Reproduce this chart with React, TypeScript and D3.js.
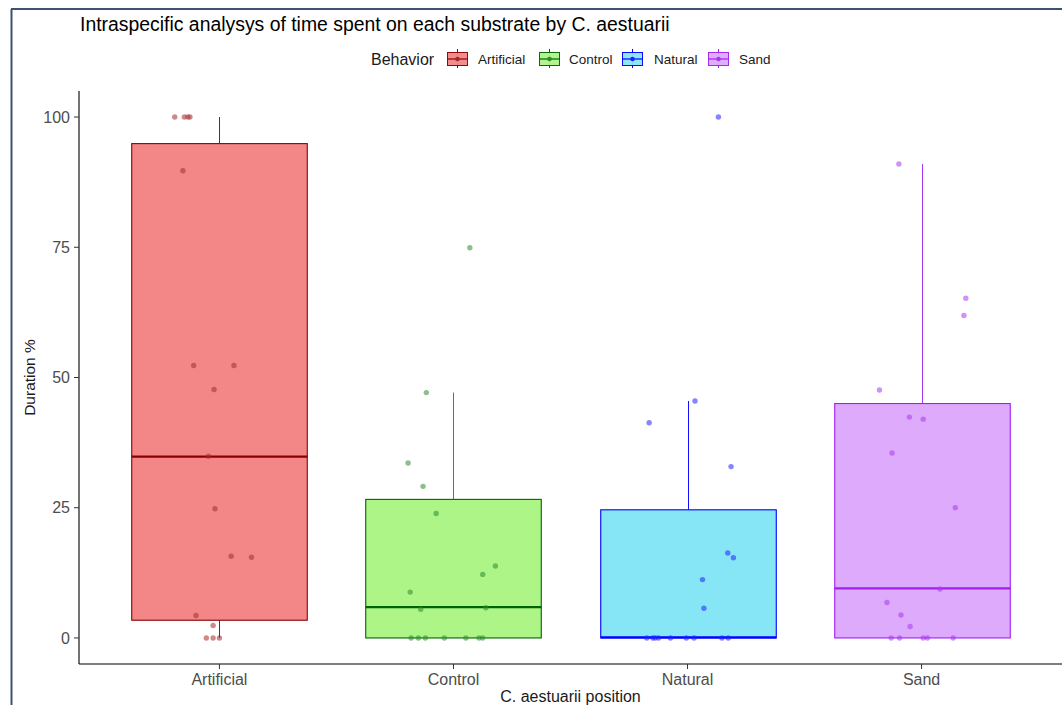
import React from "react";
import * as d3 from "d3";

const categories = ["Artificial", "Control", "Natural", "Sand"];
const fillColors = ["#F38787", "#ADF587", "#87E6F5", "#DDAAFC"];
const strokeColors = ["#8B0000", "#006400", "#0000FF", "#A020F0"];
const whiskerColors = ["#8B1A1A", "#3C8C3C", "#1010FF", "#A838F0"];
const pointColors = ["#A52A2A", "#2E8B2E", "#2020FF", "#A838F0"];

// box statistics [lowerWhisker, q1, median, q3, upperWhisker]
const boxArtificial = [0, 3.4, 34.8, 94.9, 100];
const boxControl = [0, 0, 5.9, 26.6, 47.1];
const boxNatural = [0, 0, 0.1, 24.6, 45.5];
const boxSand = [0, 0, 9.5, 45.0, 91.0];
const boxes = [boxArtificial, boxControl, boxNatural, boxSand];

// jittered observations: values and horizontal jitter (category units)
const artificialValues = [100, 100, 100, 100, 89.7, 52.3, 52.3, 47.7, 34.9, 24.8, 15.7, 15.5, 4.3, 2.4, 0, 0, 0];
const artificialJitter = [-0.191, -0.15, -0.135, -0.126, -0.156, -0.11, 0.062, -0.023, -0.047, -0.019, 0.05, 0.137, -0.1, -0.027, -0.056, -0.027, 0.0];
const controlValues = [74.9, 47.1, 33.6, 29.1, 23.9, 13.8, 12.2, 8.8, 5.5, 5.8, 0, 0, 0, 0, 0, 0, 0];
const controlJitter = [0.07, -0.116, -0.194, -0.13, -0.074, 0.179, 0.125, -0.185, -0.14, 0.138, -0.181, -0.15, -0.12, -0.039, 0.053, 0.109, 0.125];
const naturalValues = [100, 45.5, 41.3, 32.9, 16.3, 15.4, 11.2, 5.7, 0, 0, 0, 0, 0, 0, 0, 0, 0];
const naturalJitter = [0.132, 0.032, -0.164, 0.186, 0.172, 0.196, 0.064, 0.07, -0.174, -0.148, -0.138, -0.124, -0.073, -0.005, 0.028, 0.147, 0.174];
const sandValues = [91.0, 65.2, 61.9, 47.6, 42.4, 42.0, 35.5, 25.0, 9.4, 6.8, 4.4, 2.2, 0, 0, 0, 0, 0];
const sandJitter = [-0.097, 0.189, 0.181, -0.18, -0.052, 0.007, -0.126, 0.144, 0.079, -0.148, -0.088, -0.049, -0.13, -0.094, 0.007, 0.025, 0.135];
const pointValues = [artificialValues, controlValues, naturalValues, sandValues];
const pointJitter = [artificialJitter, controlJitter, naturalJitter, sandJitter];

const yTicks = [0, 25, 50, 75, 100];

const title = "Intraspecific analysys of time spent on each substrate by C. aestuarii";
const xTitle = "C. aestuarii position";
const yTitle = "Duration %";
const legendTitle = "Behavior";

const W = 1062;
const H = 705;
const FONT = "'Liberation Sans', Arial, sans-serif";

export default function App() {
  const left = 79;
  const right = 1062;
  const top = 91;
  const bottom = 664;

  // discrete axis with 0.6 expansion on each side
  const xPos = d3.scaleLinear().domain([0.4, 4.6]).range([left, right]);
  const y = d3.scaleLinear().domain([-5, 105]).range([bottom, top]);
  const unit = xPos(2) - xPos(1);
  const boxW = unit * 0.75;

  const legendItems = [
    { x: 447, lx: 478 },
    { x: 539, lx: 569 },
    { x: 622, lx: 654 },
    { x: 708, lx: 739 },
  ];

  return (
    <svg
      width={W}
      height={H}
      style={{ position: "fixed", left: 0, top: 0, display: "block", background: "#fff" }}
      fontFamily={FONT}
    >
      <rect x={0} y={0} width={W} height={H} fill="#fff" />
      {/* outer frame */}
      <line x1={11.5} x2={11.5} y1={9} y2={H} stroke="#3E5270" strokeWidth={2} />
      <line x1={11} x2={W} y1={9} y2={9} stroke="#3E5270" strokeWidth={2} />

      <text x={80} y={31} fontSize={19.4} fill="#000">{title}</text>

      {/* legend */}
      <text x={371} y={65} fontSize={16} fill="#1a1a1a">{legendTitle}</text>
      {categories.map((c, i) => {
        const it = legendItems[i];
        return (
          <g key={c}>
            <line x1={it.x + 10.5} x2={it.x + 10.5} y1={49} y2={68} stroke={strokeColors[i]} strokeWidth={1} />
            <rect x={it.x + 0.5} y={52.5} width={20} height={13} fill={fillColors[i]} stroke={strokeColors[i]} strokeWidth={1} opacity={0.95} />
            <line x1={it.x} x2={it.x + 21} y1={59} y2={59} stroke={strokeColors[i]} strokeWidth={1.2} />
            <circle cx={it.x + 10.5} cy={59} r={2.3} fill={pointColors[i]} />
            <text x={it.lx} y={64} fontSize={13.5} fill="#1a1a1a">{c}</text>
          </g>
        );
      })}

      {/* boxes */}
      {boxes.map((b, i) => {
        const cx = Math.round(xPos(i + 1)) + 0.5;
        return (
          <g key={"box" + i}>
            <line x1={cx} x2={cx} y1={y(b[3])} y2={y(b[4])} stroke={whiskerColors[i]} strokeWidth={1} />
            <line x1={cx} x2={cx} y1={y(b[1])} y2={y(b[0])} stroke={whiskerColors[i]} strokeWidth={1} />
            <rect
              x={cx - boxW / 2}
              y={y(b[3])}
              width={boxW}
              height={y(b[1]) - y(b[3])}
              fill={fillColors[i]}
              stroke={strokeColors[i]}
              strokeWidth={1.1}
            />
            <line x1={cx - boxW / 2} x2={cx + boxW / 2} y1={y(b[2])} y2={y(b[2])} stroke={strokeColors[i]} strokeWidth={2.2} />
          </g>
        );
      })}

      {/* points */}
      {pointValues.map((vals, i) =>
        vals.map((v, j) => (
          <circle
            key={"p" + i + "-" + j}
            cx={xPos(i + 1 + pointJitter[i][j])}
            cy={y(v)}
            r={2.7}
            fill={pointColors[i]}
            opacity={0.55}
          />
        ))
      )}

      {/* axes */}
      <line x1={left} x2={left} y1={top} y2={bottom} stroke="#000" strokeWidth={1.1} />
      <line x1={left} x2={right} y1={bottom} y2={bottom} stroke="#000" strokeWidth={1.1} />
      {yTicks.map((t) => (
        <g key={"yt" + t}>
          <line x1={left - 5} x2={left} y1={y(t)} y2={y(t)} stroke="#333" strokeWidth={1} />
          <text x={left - 9} y={y(t)} dy="0.36em" textAnchor="end" fontSize={16} fill="#4d4d4d">{t}</text>
        </g>
      ))}
      {categories.map((c, i) => (
        <g key={"xt" + c}>
          <line x1={xPos(i + 1)} x2={xPos(i + 1)} y1={bottom} y2={bottom + 5} stroke="#333" strokeWidth={1} />
          <text x={xPos(i + 1)} y={684.5} textAnchor="middle" fontSize={16} fill="#4d4d4d">{c}</text>
        </g>
      ))}
      <text x={(left + right) / 2} y={701.5} textAnchor="middle" fontSize={16} fill="#1a1a1a">{xTitle}</text>
      <text transform={`translate(35, ${(top + bottom) / 2}) rotate(-90)`} textAnchor="middle" fontSize={15.5} fill="#1a1a1a">{yTitle}</text>
    </svg>
  );
}
